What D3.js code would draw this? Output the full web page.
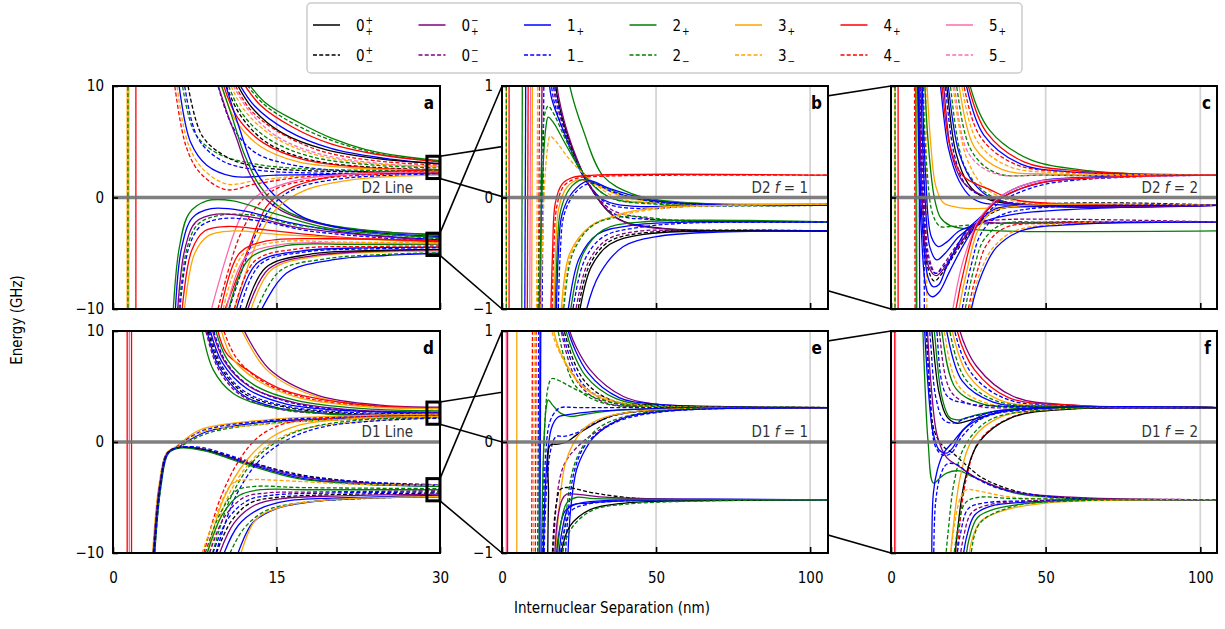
<!DOCTYPE html>
<html>
<head>
<meta charset="utf-8">
<script src="https://cdn.jsdelivr.net/npm/d3@7"></script>
<style>
body { margin: 0; background: #fff; }
svg text { font-family: "DejaVu Sans", "Liberation Sans", sans-serif; font-stretch: condensed; }
</style>
</head>
<body>
<svg id="chart" width="1225" height="629"></svg>
<script>
// series (legend entries): key, colour, dashed
const seriesKeys   = ["0++", "0+-", "0-+", "0--", "1+", "1-", "2+", "2-", "3+", "3-", "4+", "4-", "5+", "5-"];
const seriesColors = ["#000000", "#000000", "#800080", "#800080", "#0000ff", "#0000ff", "#008000", "#008000",
                      "#ffa500", "#ffa500", "#ff0000", "#ff0000", "#ff69b4", "#ff69b4"];
const seriesDashed = [false, true, false, true, false, true, false, true, false, true, false, true, false, true];

// legend labels
const legendBase = ["0", "0", "1", "2", "3", "4", "5"];
const legendSup  = ["+", "\u2212", "", "", "", "", ""];

const xTicksNear = [0, 15, 30];
const xTicksFar  = [0, 50, 100];
const yTicksWide = [-10, 0, 10];
const yTicksZoom = [-1, 0, 1];

// panel a : D2 line, energy (GHz) vs separation (nm)
const panelA = [
  ["3+", [[1.3, -11], [1.3, 11]]], ["3+", [[1.45, -11], [1.45, 11]]], ["2-", [[1.37, -11], [1.37, 11]]],
  ["4+", [[2.1, -11], [2.1, 11]]],
  ["2+", [[12.2, 10.5], [14.1, 8.4], [17.1, 6.7], [20.1, 5.3], [23.2, 4.3], [26.5, 3.7], [30, 3.3]]],
  ["2-", [[12.0, 10.5], [13.8, 8.4], [17, 6.4], [21, 4.8], [25, 3.8], [30, 3.25]]],
  ["4+", [[11.8, 10.5], [13.5, 8.3], [16.5, 6.3], [20, 4.8], [24, 3.9], [30, 3.2]]],
  ["1+", [[11.4, 10.5], [13, 8.2], [16, 6.0], [20, 4.4], [25, 3.5], [30, 3.0]]],
  ["0++", [[11.2, 10.5], [12.8, 8.0], [15.5, 5.8], [19.5, 4.3], [25, 3.4], [30, 3.05]]],
  ["4-", [[11.0, 10.5], [12.5, 8.0], [15, 6.0], [19, 4.2], [24, 3.3], [30, 2.9]]],
  ["5-", [[10.8, 10.5], [12.3, 8], [15, 5.5], [19, 3.9], [25, 3.0], [30, 2.8]]],
  ["3-", [[10.6, 10.5], [12, 7.9], [14.5, 5.6], [18, 4.0], [23, 3.1], [30, 2.75]]],
  ["2-", [[10.4, 10.5], [11.8, 7.6], [14.2, 5.3], [18, 3.7], [24, 2.9], [30, 2.65]]],
  ["0+-", [[10.2, 10.5], [11.6, 7.5], [14, 5.0], [18, 3.4], [24, 2.7], [30, 2.5]]],
  ["4+", [[10.0, 10.5], [11.4, 7.2], [13.8, 4.9], [17.5, 3.4], [23, 2.7], [30, 2.45]]],
  ["3+", [[9.8, 10.5], [11.2, 7.0], [13.5, 4.6], [17, 3.2], [23, 2.6], [30, 2.4]]],
  ["1-", [[9.5, 10.5], [11, 6.3], [13.1, 4.0], [17.1, 2.8], [23.2, 2.3], [30, 2.1]]],
  ["4-", [[5.6, 10.5], [6.7, 4.6], [8.0, 2.2], [10.4, 0.7], [13, 1.2], [18, 1.9], [30, 2.3]]],
  ["3-", [[5.8, 10.5], [6.9, 4.8], [8.3, 2.5], [10.5, 1.2], [13, 1.5], [18, 2.0], [30, 2.3]]],
  ["1+", [[6.0, 10.5], [7.1, 5.0], [8.6, 2.9], [11, 1.9], [15, 2.0], [30, 2.2]]],
  ["2-", [[6.3, 10.5], [7.5, 5.8], [9.5, 4.0], [12.5, 3.1], [17, 2.6], [30, 2.4]]],
  ["1-", [[6.5, 10.5], [7.8, 5.3], [10, 3.3], [13, 2.5], [18, 2.2], [30, 2.2]]],
  ["0+-", [[6.8, 10.5], [8.2, 5.5], [10.5, 3.6], [13, 2.8], [18, 2.4], [30, 2.3]]],
  ["0-+", [[9.5, 10.5], [10.5, 7.5], [11.3, 5.4], [12.5, 2.2], [14.1, -0.2], [15.9, -1.4], [20.1, -2.6], [25, -3.1], [30, -3.3]]],
  ["2+", [[9.8, 10.5], [11, 7], [12, 4], [13.5, 1.0], [15.5, -1.0], [19, -2.3], [24, -3.0], [30, -3.4]]],
  ["1+", [[10.2, 10.5], [11.5, 6.5], [13, 2.5], [15, 0], [17.5, -1.8], [22, -2.9], [30, -3.5]]],
  ["4+", [[10.1, -10.5], [12.5, -4.4], [14.1, -0.8], [15.9, 0.67], [20.1, 1.9], [30, 2.5]]],
  ["5+", [[8.9, -10.5], [11.6, -2.0], [13.1, 0.07], [17.1, 1.6], [22, 2.1], [30, 2.3]]],
  ["4-", [[9.5, -10.5], [11.6, -3.5], [13.2, -0.8], [15, 0.8], [20, 1.8], [30, 2.2]]],
  ["1-", [[10.5, -10.5], [12.8, -4.0], [14.5, -0.9], [16.5, 0.7], [21, 1.7], [30, 2.1]]],
  ["3+", [[11, -10.5], [13.3, -3.8], [15, -1], [17.5, 0.6], [22, 1.6], [30, 2.0]]],
  ["2+", [[5.5, -10.5], [6.1, -4.4], [7.0, -1.4], [8.6, -0.3], [11, -0.3], [15, -1.5], [20, -2.8], [30, -3.6]]],
  ["1+", [[5.7, -10.5], [6.3, -4.5], [7.3, -1.8], [9, -1.0], [12, -1.2], [16, -2.2], [22, -3.2], [30, -3.8]]],
  ["2-", [[6.0, -10.5], [6.8, -4.5], [7.8, -2.4], [9.8, -1.6], [13, -1.6], [17, -2.5], [30, -3.7]]],
  ["0-+", [[5.9, -10.5], [6.6, -4.6], [7.6, -2.2], [9.5, -1.5], [13, -1.8], [17, -2.7], [30, -3.9]]],
  ["1-", [[6.1, -10.5], [6.9, -4.7], [8, -2.6], [10, -1.9], [13.5, -2.1], [18, -3.0], [30, -4.0]]],
  ["4+", [[6.3, -10.5], [7.2, -4.8], [8.4, -3.0], [10.5, -2.6], [14, -2.9], [20, -3.5], [30, -4.0]]],
  ["3+", [[6.5, -10.5], [7.5, -5], [8.8, -3.4], [11, -3.0], [15, -3.3], [30, -4.1]]],
  ["1+", [[13.4, -10.5], [15.9, -6.8], [20.1, -5.6], [25, -5.2], [30, -5.0]]],
  ["2-", [[13.0, -10.5], [15.3, -6.6], [19.5, -5.5], [25, -5.1], [30, -4.95]]],
  ["3+", [[12.5, -10.5], [14.5, -6.5], [18.5, -5.3], [24, -4.9], [30, -4.8]]],
  ["0-+", [[12.2, -10.5], [14.3, -6.4], [18.5, -5.2], [30, -4.7]]],
  ["0++", [[12.0, -10.5], [14, -6.3], [18, -5.1], [24, -4.75], [30, -4.65]]],
  ["1-", [[11.5, -10.5], [13.5, -6.0], [17.5, -4.9], [24, -4.6], [30, -4.5]]],
  ["1+", [[11.2, -10.5], [13.2, -5.9], [17.2, -4.8], [24, -4.5], [30, -4.45]]],
  ["4-", [[11, -10.5], [13, -5.7], [17, -4.6], [23, -4.4], [30, -4.35]]],
  ["2+", [[10.5, -10.5], [12.5, -5.5], [16, -4.3], [22, -4.2], [30, -4.2]]],
  ["5+", [[10.3, -10.5], [12.2, -5.3], [15.5, -4.2], [22, -4.1], [30, -4.15]]],
  ["3-", [[10.0, -10.5], [12, -5.0], [15, -4.0], [21, -4.0], [30, -4.1]]],
  ["4+", [[9.8, -10.5], [11.6, -5.0], [14.1, -3.9], [20.1, -3.7], [30, -3.9]]]
];

// panel b : D2 f = 1
const panelB = [
  ["3+", [[1.4, -1.1], [1.4, 1.1]]], ["2-", [[1.4, -1.1], [1.4, 1.1]]], ["4+", [[2.3, -1.1], [2.3, 1.1]]],
  ["2+", [[6.4, -1.1], [6.6, 1.1]]], ["1+", [[7.4, -1.1], [7.7, 1.1]]], ["4+", [[8.2, -1.1], [8.5, 1.1]]],
  ["5+", [[9.0, -1.1], [9.3, 1.1]]], ["3+", [[9.6, -1.1], [9.9, 1.1]]], ["3-", [[11.2, -1.1], [11.6, 1.1]]],
  ["4-", [[11.8, -1.1], [12.2, 1.1]]], ["0-+", [[12.5, -1.1], [13.0, 1.1]]], ["1-", [[13.0, -1.1], [13.6, 1.1]]],
  ["2+", [[21.5, 1.1], [22, 1.0], [26.4, 0.6], [32.9, 0.19], [41.6, 0.04], [50.2, -0.02], [70, -0.06], [106, -0.07]]],
  ["1+", [[15.2, 1.1], [16, 0.9], [19.9, 0.6], [26.4, 0.19], [32.9, -0.02], [43.7, -0.08], [60, -0.07], [106, -0.07]]],
  ["1-", [[15.8, 1.1], [16.6, 0.9], [20.5, 0.55], [27, 0.17], [34, -0.05], [45, -0.1], [60, -0.08], [106, -0.07]]],
  ["0--", [[16.4, 1.1], [17.2, 0.9], [21, 0.55], [27.5, 0.15], [35, -0.1], [45, -0.18], [60, -0.21], [106, -0.22]]],
  ["1-", [[16.8, 1.1], [17.6, 0.9], [21.5, 0.52], [28, 0.12], [36, -0.14], [50, -0.2], [106, -0.22]]],
  ["0++", [[17.2, 1.1], [18, 0.9], [22, 0.5], [28.5, 0.1], [37, -0.18], [50, -0.27], [106, -0.30]]],
  ["0-+", [[17.6, 1.1], [18.4, 0.9], [22.5, 0.48], [29, 0.08], [38, -0.2], [52, -0.28], [106, -0.30]]],
  ["2+", [[12.0, -1.1], [13.2, 0.2], [14.2, 0.62], [15, 0.72], [16.5, 0.68], [21, 0.46], [27, 0.19], [35, 0.0], [50, -0.05], [106, -0.07]]],
  ["2-", [[11.6, -1.1], [12.8, 0.3], [13.9, 0.75], [15, 0.82], [16.8, 0.75], [21, 0.5], [27, 0.2], [35, 0.0], [50, -0.06], [106, -0.07]]],
  ["3-", [[12.5, -1.1], [13.8, 0.1], [14.8, 0.45], [15.6, 0.55], [17, 0.52], [22, 0.34], [28.6, 0.16], [37, 0.0], [50, -0.05], [106, -0.06]]],
  ["4+", [[15.8, -1.1], [16.4, -0.5], [17.3, -0.05], [19.5, 0.12], [23, 0.18], [30, 0.2], [106, 0.2]]],
  ["4-", [[16.2, -1.1], [16.8, -0.5], [17.8, -0.08], [20, 0.1], [24, 0.17], [32, 0.19], [106, 0.2]]],
  ["3+", [[16.8, -1.1], [17.4, -0.5], [18.4, -0.1], [21, 0.09], [25, 0.16], [30, 0.12], [40, 0.0], [60, -0.05], [106, -0.06]]],
  ["2+", [[17.2, -1.1], [17.9, -0.5], [19, -0.12], [22, 0.08], [26, 0.16], [31, 0.12], [42, 0.0], [60, -0.05], [106, -0.06]]],
  ["1+", [[17.6, -1.1], [18.3, -0.5], [19.5, -0.15], [23, 0.05], [28, 0.15], [35, 0.08], [50, -0.03], [106, -0.07]]],
  ["1-", [[18.2, -1.1], [18.9, -0.5], [20.2, -0.15], [24, 0.05], [29, 0.13], [36, 0.05], [50, -0.04], [106, -0.07]]],
  ["3+", [[18.8, -1.1], [19.2, -1.0], [22, -0.5], [28.6, -0.26], [39.4, -0.14], [50, -0.09], [70, -0.07], [106, -0.06]]],
  ["3-", [[19.2, -1.1], [19.6, -1.0], [22.5, -0.5], [29, -0.25], [40, -0.15], [55, -0.09], [106, -0.06]]],
  ["2-", [[19.5, -1.1], [20, -1.0], [23, -0.5], [29.5, -0.25], [40, -0.17], [55, -0.2], [106, -0.22]]],
  ["1+", [[21, -1.1], [21.5, -1.0], [25, -0.55], [31, -0.33], [42, -0.25], [60, -0.22], [106, -0.22]]],
  ["2+", [[21.8, -1.1], [22.3, -1.0], [26.4, -0.5], [32.9, -0.29], [44.8, -0.22], [106, -0.22]]],
  ["1-", [[22.5, -1.1], [23, -1.0], [27, -0.55], [33, -0.35], [44, -0.27], [60, -0.23], [106, -0.22]]],
  ["0--", [[23.5, -1.1], [24, -1.0], [28, -0.58], [34, -0.38], [45, -0.3], [60, -0.3], [106, -0.30]]],
  ["0+-", [[24.2, -1.1], [24.7, -1.0], [28.5, -0.6], [34.5, -0.4], [45, -0.32], [106, -0.30]]],
  ["0++", [[24.8, -1.1], [25.3, -1.0], [29, -0.62], [35, -0.42], [46, -0.33], [106, -0.30]]],
  ["1+", [[27, -1.1], [27.5, -1.0], [31.8, -0.68], [39.4, -0.44], [50.2, -0.35], [70, -0.31], [106, -0.30]]]
];

// panel c : D2 f = 2
const panelC = [
  ["3+", [[1.3, -1.1], [1.3, 1.1]]], ["2-", [[1.3, -1.1], [1.3, 1.1]]], ["4+", [[2.3, -1.1], [2.3, 1.1]]],
  ["4-", [[7.6, 1.1], [7.8, -1.1]]], ["3+", [[8.3, 1.1], [8.5, -1.1]]], ["2+", [[8.0, 1.1], [8.2, -1.1]]],
  ["1+", [[9.0, 1.1], [9.3, -1.1]]], ["1-", [[10.5, 1.1], [10.8, -1.1]]], ["3-", [[11.3, 1.1], [11.6, -1.1]]],
  ["2+", [[10.8, 1.1], [12, 0.5], [14, 0.0], [16, -0.18], [19, -0.25], [24, -0.28], [35, -0.3], [106, -0.30]]],
  ["3+", [[11.5, 1.1], [12.8, 0.5], [14.5, 0.1], [17, -0.05], [20, -0.08], [25, -0.1], [35, -0.09], [106, -0.07]]],
  ["2-", [[10.2, 1.1], [11.5, 0.3], [13.5, -0.15], [15.9, -0.26], [19, -0.26], [24, -0.25], [35, -0.23], [106, -0.22]]],
  ["1+", [[10.0, 1.1], [11.2, 0.2], [13, -0.35], [15.3, -0.44], [18, -0.4], [22, -0.3], [27.7, -0.23], [34, -0.02], [45, 0.13], [70, 0.19], [106, 0.2]]],
  ["1+", [[9.6, 1.1], [10.8, 0.1], [12.6, -0.45], [14.8, -0.56], [17.5, -0.5], [22, -0.35], [27.7, -0.23], [34, -0.1], [45, -0.08], [106, -0.07]]],
  ["0--", [[9.4, 1.1], [10.6, 0.0], [12.4, -0.55], [14.5, -0.68], [17, -0.6], [22, -0.4], [27.7, -0.23], [35, -0.2], [106, -0.22]]],
  ["1-", [[9.2, 1.1], [10.4, -0.05], [12.3, -0.58], [14.4, -0.68], [17, -0.62], [22, -0.42], [27.7, -0.24], [35, -0.05], [50, 0.12], [106, 0.2]]],
  ["0+-", [[9.0, 1.1], [10.2, -0.1], [12.1, -0.65], [14.0, -0.75], [16.5, -0.68], [22, -0.45], [28, -0.24], [36, -0.1], [106, -0.07]]],
  ["0-+", [[9.1, 1.1], [10.3, -0.1], [12.2, -0.62], [14.6, -0.7], [17, -0.64], [22, -0.43], [28, -0.23], [35, -0.23], [106, -0.22]]],
  ["1+", [[8.8, 1.1], [10.0, -0.2], [12.0, -0.72], [13.6, -0.8], [15.5, -0.78], [18, -0.62], [24.5, -0.29], [28, -0.2], [36, 0.0], [50, 0.14], [106, 0.2]]],
  ["1+", [[8.6, 1.1], [9.8, -0.3], [11.8, -0.85], [13.4, -0.89], [15.5, -0.85], [19, -0.66], [24, -0.4], [28, -0.25], [40, -0.15], [106, -0.07]]],
  ["2+", [[25.2, 1.1], [25.6, 1.0], [32, 0.6], [45, 0.34], [61, 0.25], [80, 0.21], [106, 0.2]]],
  ["4+", [[24.5, 1.1], [25, 1.0], [31, 0.58], [43, 0.32], [60, 0.24], [106, 0.2]]],
  ["1+", [[24, 1.1], [24.4, 1.0], [30, 0.56], [42, 0.3], [58, 0.23], [106, 0.2]]],
  ["4-", [[23.2, 1.1], [23.6, 1.0], [29, 0.54], [40, 0.3], [56, 0.23], [106, 0.2]]],
  ["3-", [[22.5, 1.1], [22.9, 1.0], [28, 0.5], [38, 0.28], [55, 0.22], [106, 0.2]]],
  ["3+", [[21.5, 1.1], [22, 1.0], [27, 0.45], [36, 0.25], [52, 0.21], [106, 0.2]]],
  ["2-", [[20.8, 1.1], [21.2, 1.0], [26, 0.42], [34, 0.22], [50, 0.2], [106, 0.2]]],
  ["5-", [[20, 1.1], [20.5, 1.0], [25, 0.4], [33, 0.22], [50, 0.2], [106, 0.2]]],
  ["3-", [[19.5, 1.1], [20, 1.0], [24.5, 0.35], [30, 0.1], [38, -0.02], [55, -0.06], [106, -0.07]]],
  ["2-", [[18.8, 1.1], [19.2, 1.0], [23.5, 0.3], [29, 0.08], [37, -0.04], [55, -0.07], [106, -0.07]]],
  ["1+", [[18, 1.1], [18.5, 1.0], [22, 0.4], [27, 0.12], [35, -0.03], [106, -0.07]]],
  ["0++", [[17.5, 1.1], [18, 1.0], [21, 0.4], [25, 0.12], [30, 0.0], [40, -0.06], [106, -0.07]]],
  ["1-", [[17, 1.1], [17.5, 1.0], [20.5, 0.38], [24, 0.12], [29, 0.02], [40, -0.05], [106, -0.07]]],
  ["0-+", [[16.5, 1.1], [17, 1.0], [19.5, 0.4], [23, 0.15], [28, 0.04], [38, -0.05], [106, -0.07]]],
  ["4+", [[16.1, 1.1], [16.5, 1.0], [19.1, 0.46], [23.4, 0.19], [32, 0.07], [40, -0.02], [60, -0.06], [106, -0.07]]],
  ["1+", [[15.5, 1.1], [16, 1.0], [18.5, 0.45], [22, 0.15], [26, 0.0], [30, -0.05], [50, -0.07], [106, -0.07]]],
  ["5+", [[19.5, -1.1], [20, -1.0], [23, -0.6], [26, -0.35], [28, -0.22], [34, -0.02], [45, 0.13], [70, 0.18], [106, 0.2]]],
  ["4+", [[20.5, -1.1], [21, -1.0], [24, -0.6], [27, -0.3], [30, -0.15], [36, 0.0], [48, 0.13], [106, 0.2]]],
  ["3+", [[21.5, -1.1], [22, -1.0], [25, -0.6], [28, -0.3], [32, -0.14], [40, -0.08], [106, -0.07]]],
  ["1-", [[22.5, -1.1], [23, -1.0], [26, -0.6], [29, -0.33], [34, -0.18], [45, -0.1], [106, -0.07]]],
  ["2-", [[23.5, -1.1], [24, -1.0], [27, -0.62], [30, -0.38], [36, -0.24], [50, -0.22], [106, -0.22]]],
  ["4-", [[24.5, -1.1], [25, -1.0], [28, -0.65], [31, -0.42], [37, -0.27], [55, -0.23], [106, -0.22]]],
  ["3-", [[25.2, -1.1], [25.6, -1.0], [29, -0.66], [33, -0.45], [40, -0.3], [60, -0.23], [106, -0.22]]],
  ["1+", [[25.6, -1.1], [26, -1.0], [29.5, -0.68], [34, -0.45], [42, -0.3], [60, -0.24], [106, -0.22]]]
];

// panel d : D1 line
const panelD = [
  ["4+", [[1.3, -11], [1.3, 11]]], ["5+", [[1.5, -11], [1.5, 11]]], ["4+", [[1.7, -11], [1.7, 11]]],
  ["3+", [[11.6, 10.5], [14.1, 6.5], [18.6, 4.1], [24.7, 3.2], [30, 3.1]]],
  ["0-+", [[11.8, 10.5], [14.3, 6.6], [18.8, 4.2], [24.8, 3.3], [30, 3.15]]],
  ["4-", [[10.0, 10.5], [11.3, 7.6], [14, 5.3], [18, 3.9], [24, 3.2], [30, 3.0]]],
  ["4+", [[9.5, 10.5], [10.4, 8.0], [12, 6.7], [15.6, 4.7], [20, 3.7], [25, 3.2], [30, 3.05]]],
  ["3+", [[9.8, 10.5], [11, 7.5], [13.5, 5.4], [17, 4.0], [23, 3.2], [30, 3.0]]],
  ["2+", [[9.3, 10.5], [10.5, 7.4], [13, 5.1], [17, 3.7], [23, 3.0], [30, 2.8]]],
  ["1-", [[9.1, 10.5], [10.3, 7.3], [12.6, 5.0], [16.5, 3.5], [22, 2.85], [30, 2.65]]],
  ["0-+", [[9.0, 10.5], [10.2, 7.3], [12.5, 5.0], [16.5, 3.6], [22, 2.9], [30, 2.7]]],
  ["1+", [[8.8, 10.5], [10, 7.2], [12.3, 4.8], [16, 3.4], [22, 2.8], [30, 2.6]]],
  ["1-", [[8.7, 10.5], [9.9, 7.0], [12, 4.6], [15.5, 3.3], [21, 2.7], [30, 2.55]]],
  ["0+-", [[8.6, 10.5], [9.8, 6.9], [12, 4.4], [15.5, 3.2], [21, 2.6], [30, 2.5]]],
  ["1+", [[8.5, 10.5], [9.7, 6.8], [11.8, 4.3], [15, 3.1], [21, 2.5], [30, 2.4]]],
  ["0--", [[8.4, 10.5], [9.6, 6.7], [11.6, 4.3], [15, 3.0], [21, 2.5], [30, 2.4]]],
  ["2+", [[8.1, 10.5], [9.2, 6.5], [11, 4.4], [14.1, 3.2], [20, 2.5], [30, 2.3]]],
  ["3+", [[3.6, -10.5], [4.2, -4], [4.9, -1.0], [5.8, -0.4], [8.0, 1.1], [14.1, 2.0], [20, 2.3], [30, 2.5]]],
  ["1-", [[3.65, -10.5], [4.25, -4], [4.95, -1.0], [5.9, -0.4], [8.2, 1.0], [14, 1.9], [20, 2.2], [30, 2.4]]],
  ["1+", [[3.7, -10.5], [4.3, -4], [5.0, -1.0], [6, -0.45], [8.5, 0.9], [14, 1.8], [21, 2.1], [30, 2.3]]],
  ["2-", [[3.75, -10.5], [4.35, -4], [5.05, -1.0], [6.1, -0.45], [8.7, 0.8], [14, 1.65], [21, 2.0], [30, 2.2]]],
  ["3-", [[3.7, -10.5], [4.3, -4], [5.0, -1.0], [6.0, -0.4], [8.3, 0.95], [13, 1.5], [20, 2.0], [30, 2.25]]],
  ["0-+", [[3.7, -10.5], [4.3, -4], [5.0, -1.0], [5.9, -0.5], [8, -0.6], [12.5, -1.9], [17.1, -3.1], [23.2, -3.7], [30, -3.9]]],
  ["1+", [[3.75, -10.5], [4.35, -4], [5.05, -1.0], [6.0, -0.5], [8.2, -0.7], [12.5, -2.0], [17, -3.2], [23, -3.8], [30, -4.0]]],
  ["2+", [[3.8, -10.5], [4.4, -4], [5.1, -1.0], [6.1, -0.55], [8.4, -0.8], [12.5, -2.1], [17, -3.3], [23, -3.8], [30, -4.0]]],
  ["0+-", [[3.72, -10.5], [4.32, -4], [5.02, -1.0], [6.0, -0.5], [8.3, -0.65], [12.8, -1.9], [17.5, -3.0], [23, -3.6], [30, -3.9]]],
  ["1-", [[3.78, -10.5], [4.38, -4], [5.08, -1.0], [6.05, -0.5], [8.1, -0.5], [12, -1.6], [17, -3.0], [23, -3.6], [30, -3.85]]],
  ["4-", [[8.2, -10.5], [9.8, -5.2], [11.6, -1.6], [13.4, 0.5], [15.9, 1.7], [21, 2.2], [30, 2.4]]],
  ["3+", [[8.5, -10.5], [10.2, -5.0], [12.3, -1.6], [14.5, 0.4], [17, 1.5], [22, 2.1], [30, 2.3]]],
  ["3-", [[8.7, -10.5], [10.5, -5.0], [12.6, -1.8], [15, 0.2], [18, 1.3], [30, 2.2]]],
  ["2-", [[9.0, -10.5], [10.8, -5.0], [13, -1.6], [15.5, 0.3], [18, 1.3], [23, 2.0], [30, 2.2]]],
  ["1-", [[9.3, -10.5], [11.2, -5.0], [13.5, -1.6], [16, 0.2], [19, 1.3], [24, 1.9], [30, 2.15]]],
  ["3-", [[8.0, -10.5], [9.5, -6.5], [11, -3.7], [12.5, -3.4], [16, -3.5], [22, -3.8], [30, -3.9]]],
  ["2-", [[8.3, -10.5], [9.8, -6.5], [11.3, -4.4], [13, -4.0], [17, -4.1], [30, -4.2]]],
  ["2+", [[8.5, -10.5], [10, -6.6], [11.6, -4.8], [13.5, -4.3], [18, -4.3], [30, -4.3]]],
  ["0--", [[8.7, -10.5], [10.2, -6.8], [12, -5.0], [14, -4.6], [19, -4.5], [30, -4.4]]],
  ["1-", [[9.0, -10.5], [10.5, -7.0], [12.3, -5.3], [14.5, -4.8], [20, -4.6], [30, -4.5]]],
  ["0+-", [[9.3, -10.5], [10.8, -7.2], [12.6, -5.5], [15, -5.0], [20, -4.75], [30, -4.6]]],
  ["0-+", [[9.6, -10.5], [11.1, -7.3], [13, -5.7], [15.5, -5.1], [21, -4.85], [30, -4.7]]],
  ["1+", [[10, -10.5], [11.5, -7.5], [13.5, -6.0], [16, -5.3], [22, -5.0], [30, -4.8]]],
  ["2-", [[10.5, -10.5], [12, -7.8], [14, -6.2], [17, -5.5], [23, -5.1], [30, -4.9]]],
  ["1+", [[11.3, -10.5], [12.8, -7.3], [15, -6.0], [19, -5.3], [25, -5.0], [30, -4.95]]],
  ["3+", [[11.6, -10.5], [13.1, -7.0], [15.6, -5.8], [20, -5.2], [25, -5.0], [30, -4.9]]]
];

// panel e : D1 f = 1
const panelE = [
  ["5+", [[1.4, -1.1], [1.4, 1.1]]], ["4+", [[1.8, -1.1], [1.8, 1.1]]], ["3+", [[4.8, -1.1], [4.8, 1.1]]],
  ["4-", [[9.6, -1.1], [9.9, 1.1]]], ["3-", [[10.2, -1.1], [10.5, 1.1]]], ["4-", [[10.8, -1.1], [11.1, 1.1]]],
  ["1-", [[11.6, -1.1], [11.9, 1.1]]], ["2+", [[12.0, -1.1], [12.3, 1.1]]], ["1+", [[12.3, -1.1], [12.6, 1.1]]],
  ["0-+", [[21.8, 1.1], [22, 1.0], [28.6, 0.65], [39.4, 0.41], [50, 0.34], [70, 0.32], [106, 0.31]]],
  ["1+", [[21.2, 1.1], [21.5, 1.0], [28, 0.62], [38, 0.4], [50, 0.34], [106, 0.31]]],
  ["2+", [[20.5, 1.1], [20.8, 1.0], [27, 0.6], [37, 0.39], [50, 0.33], [106, 0.31]]],
  ["0+-", [[19.8, 1.1], [20.2, 1.0], [26.5, 0.56], [36, 0.37], [50, 0.33], [106, 0.31]]],
  ["1-", [[19.3, 1.1], [19.6, 1.0], [26, 0.53], [35, 0.36], [50, 0.32], [106, 0.31]]],
  ["0--", [[18.8, 1.1], [19.2, 1.0], [25, 0.52], [34, 0.35], [50, 0.32], [106, 0.31]]],
  ["2-", [[17.8, 1.1], [18.2, 1.0], [24, 0.5], [33, 0.35], [50, 0.32], [106, 0.31]]],
  ["3+", [[16.5, 1.1], [16.8, 1.0], [20.5, 0.72], [27, 0.48], [38, 0.35], [106, 0.31]]],
  ["3-", [[16.0, 1.1], [16.2, 1.0], [19.9, 0.74], [26.4, 0.5], [38, 0.36], [55, 0.32], [106, 0.31]]],
  ["2-", [[13.0, -1.1], [13.8, 0.1], [15, 0.5], [16.1, 0.57], [18, 0.56], [24.2, 0.47], [35, 0.36], [50, 0.32], [106, 0.31]]],
  ["2+", [[12.8, -1.1], [13.6, 0.0], [14.4, 0.32], [15, 0.38], [16.5, 0.33], [19, 0.26], [22, 0.23], [27, 0.25], [35, 0.28], [50, 0.3], [106, 0.31]]],
  ["1-", [[13.2, -1.1], [14, -0.2], [15.5, 0.18], [17.5, 0.28], [19, 0.31], [25, 0.31], [106, 0.31]]],
  ["1+", [[13.4, -1.1], [14.3, -0.3], [16, 0.12], [18, 0.22], [20, 0.24], [28, 0.27], [50, 0.3], [106, 0.31]]],
  ["1-", [[13.6, -1.1], [14.5, -0.4], [16, -0.05], [17.6, 0.05], [20, 0.05], [24, 0.08], [30, 0.17], [40, 0.26], [106, 0.31]]],
  ["0++", [[14.8, -1.1], [15.1, -0.5], [15.6, -0.03], [18, -0.02], [21, 0.0], [24, 0.06], [28.6, 0.14], [36, 0.24], [50, 0.29], [106, 0.31]]],
  ["0--", [[16.5, -1.1], [17.5, -0.6], [19, -0.3], [21, -0.16], [25, -0.03], [30, 0.08], [40, 0.22], [55, 0.29], [106, 0.31]]],
  ["3+", [[17.3, -1.1], [18.5, -0.6], [20.5, -0.2], [23.2, -0.01], [27, 0.13], [33, 0.22], [45, 0.28], [106, 0.31]]],
  ["2-", [[19.5, -1.1], [21, -0.6], [23, -0.25], [26, -0.05], [31, 0.12], [40, 0.23], [60, 0.3], [106, 0.31]]],
  ["1-", [[20.5, -1.1], [21.6, -0.6], [23.6, -0.25], [26.5, -0.05], [31, 0.08], [39, 0.2], [55, 0.28], [106, 0.31]]],
  ["1+", [[21.3, -1.1], [22.3, -0.6], [24.2, -0.25], [27, -0.07], [30, 0.05], [38, 0.2], [50, 0.27], [106, 0.31]]],
  ["0+-", [[16.2, -1.1], [17, -0.7], [18, -0.5], [18.8, -0.43], [21, -0.41], [30, -0.46], [45, -0.51], [106, -0.52]]],
  ["0-+", [[17, -1.1], [18, -0.7], [19.5, -0.52], [21, -0.47], [24, -0.47], [35, -0.5], [106, -0.52]]],
  ["1+", [[17.5, -1.1], [18.6, -0.8], [20.5, -0.62], [24, -0.56], [32, -0.53], [106, -0.52]]],
  ["2+", [[17.8, -1.1], [19, -0.75], [21, -0.55], [24, -0.5], [30, -0.51], [106, -0.52]]],
  ["1+", [[18.2, -1.1], [19.5, -0.8], [22, -0.58], [28, -0.55], [40, -0.53], [106, -0.52]]],
  ["1-", [[18.6, -1.1], [20, -0.82], [22.5, -0.62], [28, -0.56], [40, -0.53], [106, -0.52]]],
  ["0++", [[18.8, -1.1], [19.2, -1.0], [22, -0.76], [28.6, -0.61], [40, -0.55], [60, -0.53], [106, -0.52]]],
  ["2-", [[19.2, -1.1], [19.6, -1.0], [22.5, -0.78], [29, -0.62], [40, -0.56], [106, -0.52]]],
  ["2+", [[40, -0.52], [106, -0.52]]]
];

// panel f : D1 f = 2
const panelF = [
  ["4+", [[1.2, -1.1], [1.2, 1.1]]], ["5+", [[1.45, -1.1], [1.45, 1.1]]],
  ["0-+", [[22, 1.1], [22.3, 1.0], [27.7, 0.68], [39.6, 0.41], [60, 0.33], [106, 0.31]]],
  ["4+", [[21, 1.1], [21.4, 1.0], [27, 0.65], [38, 0.4], [60, 0.33], [106, 0.31]]],
  ["1-", [[20.2, 1.1], [20.6, 1.0], [26, 0.62], [37, 0.39], [60, 0.32], [106, 0.31]]],
  ["3+", [[19.4, 1.1], [19.8, 1.0], [25, 0.6], [35, 0.38], [55, 0.32], [106, 0.31]]],
  ["2-", [[18.6, 1.1], [19, 1.0], [24, 0.57], [34, 0.37], [55, 0.32], [106, 0.31]]],
  ["1+", [[17.5, 1.1], [18, 1.0], [23, 0.55], [33, 0.36], [50, 0.32], [106, 0.31]]],
  ["3-", [[16.8, 1.1], [17.2, 1.0], [22, 0.5], [31, 0.35], [50, 0.32], [106, 0.31]]],
  ["2+", [[16, 1.1], [16.4, 1.0], [21, 0.48], [30, 0.34], [50, 0.32], [106, 0.31]]],
  ["0--", [[15.2, 1.1], [15.6, 1.0], [19.5, 0.45], [27, 0.33], [45, 0.31], [106, 0.31]]],
  ["1-", [[14.4, 1.1], [14.8, 1.0], [18, 0.42], [24, 0.35], [40, 0.32], [106, 0.31]]],
  ["2+", [[13.6, 1.1], [14, 1.0], [16.5, 0.4], [19, 0.22], [22, 0.2], [27, 0.24], [40, 0.3], [106, 0.31]]],
  ["0++", [[12.8, 1.1], [13.2, 1.0], [15.5, 0.45], [18, 0.23], [21, 0.17], [26, 0.2], [39.6, 0.29], [106, 0.31]]],
  ["1-", [[12.2, 1.1], [12.8, 0.9], [14.5, 0.4], [17, 0.2], [20, 0.17], [25, 0.22], [40, 0.29], [106, 0.31]]],
  ["2+", [[10.2, 1.1], [11, 0.5], [12, 0.0], [13.7, -0.37], [16, -0.32], [18, -0.28], [22, -0.26], [27, -0.32], [40, -0.46], [60, -0.51], [106, -0.52]]],
  ["1+", [[10.7, 1.1], [12, 0.5], [13.5, 0.1], [15.5, -0.07], [18, -0.1], [20, -0.05], [23.4, 0.11], [30, 0.25], [45, 0.3], [106, 0.31]]],
  ["0+-", [[11.2, 1.1], [12.5, 0.5], [14, 0.1], [16.9, -0.04], [20, -0.1], [24, -0.2], [30, -0.33], [45, -0.47], [106, -0.52]]],
  ["1-", [[11.4, 1.1], [12.6, 0.4], [14.5, -0.05], [17, -0.12], [19.5, -0.1], [23, 0.05], [30, 0.22], [50, 0.3], [106, 0.31]]],
  ["0-+", [[11.6, 1.1], [13, 0.5], [15, 0.05], [18, -0.14], [22, -0.22], [28, -0.33], [40, -0.45], [60, -0.5], [106, -0.52]]],
  ["4-", [[21, -1.1], [22, -0.8], [24.5, -0.31], [28.8, 0.02], [39.6, 0.23], [60, 0.3], [106, 0.31]]],
  ["0++", [[20.5, -1.1], [21.5, -0.8], [24, -0.33], [28.5, 0.0], [39, 0.22], [60, 0.3], [106, 0.31]]],
  ["3+", [[19, -1.1], [20, -0.8], [22.5, -0.3], [26.5, 0.03], [35, 0.22], [55, 0.3], [106, 0.31]]],
  ["2-", [[17.5, -1.1], [18.5, -0.8], [20.5, -0.35], [24, -0.03], [32, 0.2], [50, 0.29], [106, 0.31]]],
  ["1+", [[13.2, -1.1], [13.7, -0.46], [15, -0.25], [17, -0.1], [20, 0.0], [25, 0.15], [35, 0.27], [106, 0.31]]],
  ["1-", [[13.8, -1.1], [14.4, -0.55], [16, -0.3], [18, -0.2], [21, -0.2], [26, -0.3], [35, -0.42], [60, -0.51], [106, -0.52]]],
  ["3-", [[19, -1.1], [20.5, -0.75], [22.5, -0.5], [24.5, -0.43], [28, -0.44], [40, -0.5], [106, -0.52]]],
  ["2-", [[20, -1.1], [21.5, -0.8], [24, -0.55], [28, -0.5], [40, -0.51], [106, -0.52]]],
  ["1-", [[21, -1.1], [22.5, -0.82], [25, -0.6], [30, -0.55], [45, -0.53], [106, -0.52]]],
  ["0--", [[22, -1.1], [23.5, -0.85], [26, -0.64], [31, -0.57], [45, -0.53], [106, -0.52]]],
  ["1+", [[23, -1.1], [24.5, -0.85], [27, -0.66], [32, -0.58], [45, -0.54], [106, -0.52]]],
  ["2+", [[24, -1.1], [25.2, -0.88], [28, -0.68], [34, -0.6], [50, -0.54], [106, -0.52]]],
  ["3+", [[25, -1.1], [26, -0.9], [28.8, -0.72], [36, -0.62], [50, -0.55], [106, -0.52]]],
  ["2-", [[25.6, -1.1], [25.9, -1.0], [28.8, -0.73], [39.6, -0.58], [60, -0.53], [106, -0.52]]]
];

// zoom boxes in the wide panels (energy centre, GHz)
const zoomCentres = [2.7, -4.2, 2.6, -4.3];

const svg = d3.select("#chart");
const colorOf = k => seriesColors[seriesKeys.indexOf(k)];
const dashOf = k => seriesDashed[seriesKeys.indexOf(k)] ? "4,2.2" : null;

const layout = [
  { id: "a", data: panelA, x0: 113, y0: 86, w: 327, h: 223, xd: [0, 30], yd: [-10, 10], xt: xTicksNear, yt: yTicksWide, txt: ["D2 Line", "", ""], txtEnd: 413, xLab: false, yLab: true },
  { id: "b", data: panelB, x0: 502, y0: 86, w: 326, h: 223, xd: [0, 105.8], yd: [-1, 1], xt: xTicksFar, yt: yTicksZoom, txt: ["D2 ", "f", " = 1"], txtEnd: 808, xLab: false, yLab: true },
  { id: "c", data: panelC, x0: 891, y0: 86, w: 326, h: 223, xd: [0, 105.4], yd: [-1, 1], xt: xTicksFar, yt: yTicksZoom, txt: ["D2 ", "f", " = 2"], txtEnd: 1198, xLab: false, yLab: false },
  { id: "d", data: panelD, x0: 113, y0: 331, w: 327, h: 222, xd: [0, 30], yd: [-10, 10], xt: xTicksNear, yt: yTicksWide, txt: ["D1 Line", "", ""], txtEnd: 413, xLab: true, yLab: true },
  { id: "e", data: panelE, x0: 502, y0: 331, w: 326, h: 222, xd: [0, 105.8], yd: [-1, 1], xt: xTicksFar, yt: yTicksZoom, txt: ["D1 ", "f", " = 1"], txtEnd: 808, xLab: true, yLab: true },
  { id: "f", data: panelF, x0: 891, y0: 331, w: 326, h: 222, xd: [0, 105.4], yd: [-1, 1], xt: xTicksFar, yt: yTicksZoom, txt: ["D1 ", "f", " = 2"], txtEnd: 1198, xLab: true, yLab: false }
];

const scales = {};
layout.forEach(p => {
  scales[p.id] = {
    x: d3.scaleLinear().domain(p.xd).range([p.x0, p.x0 + p.w]),
    y: d3.scaleLinear().domain(p.yd).range([p.y0 + p.h, p.y0])
  };
});

// connector lines sit below the panels
const boxLinks = [["a", zoomCentres[0], "c"], ["a", zoomCentres[1], "b"], ["d", zoomCentres[2], "f"], ["d", zoomCentres[3], "e"]];
const conn = svg.append("g");
boxLinks.forEach(([src, yc, dst]) => {
  const s = scales[src], t = layout.find(p => p.id === dst);
  const xr = s.x(30);
  conn.append("line").attr("x1", xr).attr("y1", s.y(yc + 1)).attr("x2", t.x0).attr("y2", t.y0)
    .attr("stroke", "#000").attr("stroke-width", 1.6);
  conn.append("line").attr("x1", xr).attr("y1", s.y(yc - 1)).attr("x2", t.x0).attr("y2", t.y0 + t.h)
    .attr("stroke", "#000").attr("stroke-width", 1.6);
});

layout.forEach(p => {
  const { x, y } = scales[p.id];
  const g = svg.append("g");
  g.append("rect").attr("x", p.x0).attr("y", p.y0).attr("width", p.w).attr("height", p.h).attr("fill", "#fff");

  // vertical grid
  g.selectAll(".grid").data(p.xt.filter(t => t > p.xd[0] && t < p.xd[1])).join("line")
    .attr("x1", d => x(d)).attr("x2", d => x(d)).attr("y1", p.y0).attr("y2", p.y0 + p.h)
    .attr("stroke", "#d4d4d4").attr("stroke-width", 1.8);

  svg.append("clipPath").attr("id", "clip-" + p.id).append("rect")
    .attr("x", p.x0).attr("y", p.y0).attr("width", p.w).attr("height", p.h);
  const cg = g.append("g").attr("clip-path", `url(#clip-${p.id})`);

  const line = d3.line().x(d => x(d[0])).y(d => y(d[1])).curve(d3.curveCatmullRom.alpha(0.5));
  cg.selectAll("path.curve").data(p.data).join("path").attr("class", "curve")
    .attr("d", d => line(d[1]))
    .attr("fill", "none")
    .attr("stroke", d => colorOf(d[0]))
    .attr("stroke-width", 1.3)
    .attr("stroke-dasharray", d => dashOf(d[0]));

  // reference line at zero
  cg.append("line").attr("x1", p.x0).attr("x2", p.x0 + p.w).attr("y1", y(0)).attr("y2", y(0))
    .attr("stroke", "#727272").attr("stroke-width", 3.6).attr("opacity", 0.9);

  const t = g.append("text").attr("x", p.txtEnd).attr("y", y(0) - 5).attr("text-anchor", "end")
    .attr("font-size", 15).attr("fill", "#333");
  t.append("tspan").text(p.txt[0]);
  if (p.txt[1]) {
    t.append("tspan").attr("font-style", "italic").text(p.txt[1]);
    t.append("tspan").text(p.txt[2]);
  }

  // zoom boxes
  boxLinks.filter(b => b[0] === p.id).forEach(([, yc]) => {
    g.append("rect").attr("x", x(28.8)).attr("y", y(yc + 1)).attr("width", x(30) - x(28.8))
      .attr("height", y(yc - 1) - y(yc + 1)).attr("fill", "none").attr("stroke", "#000").attr("stroke-width", 3);
  });

  // axes (ticks pointing inward)
  const ax = g.append("g").attr("transform", `translate(0,${p.y0 + p.h})`)
    .call(d3.axisBottom(x).tickValues(p.xt).tickSize(-6).tickPadding(19).tickFormat(p.xLab ? d3.format("d") : () => ""));
  const ay = g.append("g").attr("transform", `translate(${p.x0},0)`)
    .call(d3.axisLeft(y).tickValues(p.yt).tickSize(-5).tickPadding(9).tickFormat(p.yLab ? d3.format("d") : () => ""));
  [ax, ay].forEach(a => {
    a.select(".domain").remove();
    a.selectAll("line").attr("stroke", "#000").attr("stroke-width", 1.6);
    a.selectAll("text").attr("font-size", 15).attr("fill", "#000")
      .style("font-family", "'DejaVu Sans', sans-serif").style("font-stretch", "condensed");
  });

  g.append("rect").attr("x", p.x0).attr("y", p.y0).attr("width", p.w).attr("height", p.h)
    .attr("fill", "none").attr("stroke", "#000").attr("stroke-width", 2);

  g.append("text").attr("x", p.x0 + p.w - 6).attr("y", p.y0 + 23).attr("text-anchor", "end")
    .attr("font-size", 17).attr("font-weight", "bold").text(p.id);
});

// axis titles
svg.append("text").attr("transform", "translate(22,320) rotate(-90)").attr("text-anchor", "middle")
  .attr("font-size", 15).text("Energy (GHz)");
svg.append("text").attr("x", 612).attr("y", 613).attr("text-anchor", "middle")
  .attr("font-size", 15).text("Internuclear Separation (nm)");

// legend
const leg = svg.append("g");
leg.append("rect").attr("x", 307).attr("y", 3).attr("width", 715).attr("height", 70).attr("rx", 4)
  .attr("fill", "#fff").attr("stroke", "#cccccc").attr("stroke-width", 1.5);
legendBase.forEach((b, i) => {
  [0, 1].forEach(r => {
    const key = i === 0 ? (r === 0 ? "0++" : "0+-") : i === 1 ? (r === 0 ? "0-+" : "0--") : (b + (r === 0 ? "+" : "-"));
    const lx = 313 + 105.5 * i, ly = 25 + 30 * r;
    leg.append("line").attr("x1", lx).attr("x2", lx + 27).attr("y1", ly).attr("y2", ly)
      .attr("stroke", colorOf(key)).attr("stroke-width", 1.5).attr("stroke-dasharray", dashOf(key));
    const tx = lx + 43;
    leg.append("text").attr("x", tx).attr("y", ly + 5.5).attr("font-size", 15).text(b);
    if (legendSup[i]) leg.append("text").attr("x", tx + 9.5).attr("y", ly - 1).attr("font-size", 10).text(legendSup[i]);
    leg.append("text").attr("x", tx + 9.5).attr("y", ly + 9.5).attr("font-size", 10).text(r === 0 ? "+" : "\u2212");
  });
});
</script>
</body>
</html>
